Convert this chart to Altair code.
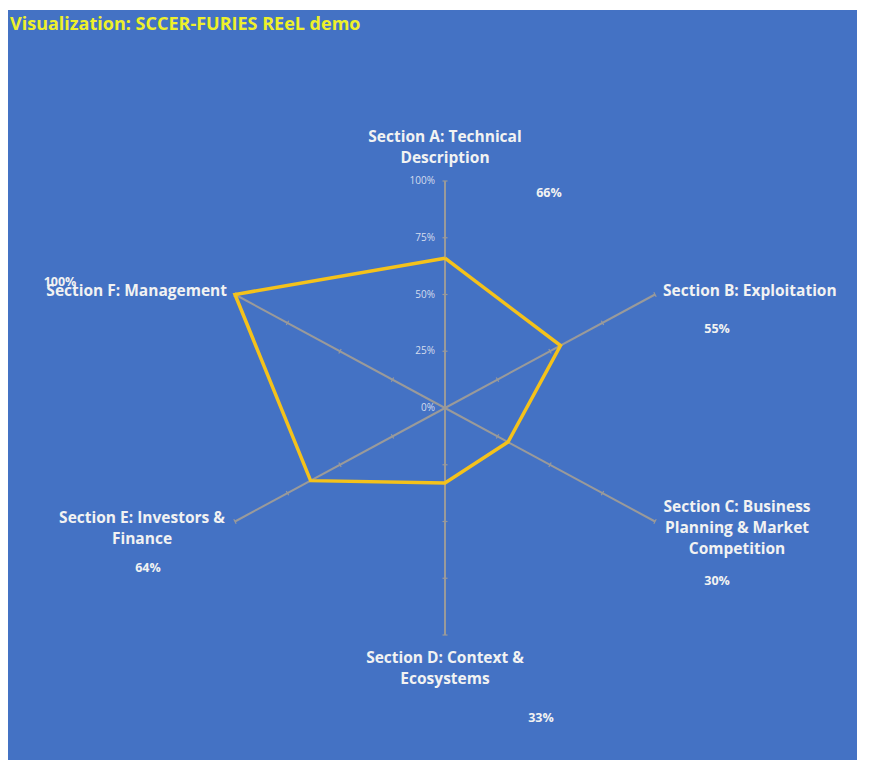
import math
import altair as alt
import pandas as pd

# ---------------- data ----------------
title_text = "Visualization: SCCER-FURIES REeL demo"
categories = ["A", "B", "C", "D", "E", "F"]
label_lines = [
    ["Section A: Technical", "Description"],
    ["Section B: Exploitation"],
    ["Section C: Business", "Planning & Market", "Competition"],
    ["Section D: Context &", "Ecosystems"],
    ["Section E: Investors &", "Finance"],
    ["Section F: Management"],
]
values = [0.66, 0.55, 0.30, 0.33, 0.64, 1.00]
value_labels = ["66%", "55%", "30%", "33%", "64%", "100%"]
tick_values = [0.0, 0.25, 0.50, 0.75, 1.00]
tick_labels = ["0%", "25%", "50%", "75%", "100%"]

# ---------------- layout / style ----------------
W, H = 849, 750
CX, CY = 437, 398          # centre of radar in view pixels
RX, RY = 242.5, 227        # pixels per unit radius (x / y)
BG = "#4472C4"
SPOKE = "#9A9A9A"
GOLD = "#F4C21B"
WHITE = "#F2F2F2"
FONT = "Open Sans"

# label placement: (dx, dy of first line, align) relative to spoke end, pixels
cat_layout = [(0, -44, "center"), (8, -4, "left"), (82, -15, "center"),
              (0, 23, "center"), (-93, -4, "center"), (-8, -4, "right")]
val_layout = [(104, 12), (62, 34), (62, 59), (96, 83), (-87, 46), (-175, -13)]

xdom = [-CX / RX, (W - CX) / RX]
ydom = [-(H - CY) / RY, CY / RY]
xs = alt.Scale(domain=xdom, nice=False, zero=False)
ys = alt.Scale(domain=ydom, nice=False, zero=False)

angles = [math.radians(90 - 60 * i) for i in range(len(categories))]

# polygon
poly = pd.DataFrame({
    "idx": list(range(len(values) + 1)),
    "x": [values[i % 6] * math.cos(angles[i % 6]) for i in range(7)],
    "y": [values[i % 6] * math.sin(angles[i % 6]) for i in range(7)],
})

# spokes
spokes = pd.DataFrame({
    "cat": categories,
    "x0": [0.0] * 6, "y0": [0.0] * 6,
    "x1": [math.cos(a) for a in angles],
    "y1": [math.sin(a) for a in angles],
})

# small tick marks on spokes
trows = []
for a in angles:
    px, py = math.cos(a) * RX, -math.sin(a) * RY
    n = math.hypot(px, py)
    qx, qy = -py / n, px / n  # perpendicular in pixel space
    for t in tick_values[1:]:
        bx, by = t * math.cos(a), t * math.sin(a)
        trows.append({"x0": bx - 2.5 * qx / RX, "y0": by + 2.5 * qy / RY,
                      "x1": bx + 2.5 * qx / RX, "y1": by - 2.5 * qy / RY})
ticks = pd.DataFrame(trows)

# axis labels on spoke A
axis_df = pd.DataFrame({"x": [0.0] * 5, "y": tick_values, "lab": tick_labels})

layers = []
layers.append(alt.Chart(spokes).mark_rule(color=SPOKE, strokeWidth=2).encode(
    x=alt.X("x0:Q", scale=xs, axis=None), y=alt.Y("y0:Q", scale=ys, axis=None),
    x2="x1:Q", y2="y1:Q"))
layers.append(alt.Chart(ticks).mark_rule(color=SPOKE, strokeWidth=1.2).encode(
    x=alt.X("x0:Q", scale=xs, axis=None), y=alt.Y("y0:Q", scale=ys, axis=None),
    x2="x1:Q", y2="y1:Q"))
layers.append(alt.Chart(axis_df).mark_text(
    align="right", baseline="middle", dx=-10, fontSize=10, font=FONT,
    color="#D5DDEE").encode(
    x=alt.X("x:Q", scale=xs, axis=None), y=alt.Y("y:Q", scale=ys, axis=None),
    text="lab:N"))
layers.append(alt.Chart(poly).mark_line(
    color=GOLD, strokeWidth=3.5, strokeJoin="miter").encode(
    x=alt.X("x:Q", scale=xs, axis=None), y=alt.Y("y:Q", scale=ys, axis=None),
    order="idx:Q"))

for i, cat in enumerate(categories):
    a = angles[i]
    dx, dy, al = cat_layout[i]
    d = pd.DataFrame({"x": [math.cos(a)], "y": [math.sin(a)],
                      "lab": [label_lines[i]], "v": [value_labels[i]]})
    layers.append(alt.Chart(d).mark_text(
        align=al, baseline="middle", dx=dx, dy=dy, fontSize=15.5,
        fontWeight="bold", font=FONT, color=WHITE, lineHeight=21).encode(
        x=alt.X("x:Q", scale=xs, axis=None), y=alt.Y("y:Q", scale=ys, axis=None),
        text="lab"))
    vdx, vdy = val_layout[i]
    layers.append(alt.Chart(d).mark_text(
        align="center", baseline="middle", dx=vdx, dy=vdy, fontSize=12.5,
        fontWeight="bold", font=FONT, color=WHITE).encode(
        x=alt.X("x:Q", scale=xs, axis=None), y=alt.Y("y:Q", scale=ys, axis=None),
        text="v:N"))

layers.append(alt.Chart(pd.DataFrame({"t": [title_text]})).mark_text(
    align="left", baseline="alphabetic", fontSize=18, fontWeight="bold",
    font=FONT, color="#EEF02A").encode(
    x=alt.value(2), y=alt.value(20), text="t:N"))

chart = alt.layer(*layers).properties(
    width=W, height=H, background="white",
    padding={"left": 0, "top": 2, "right": 0, "bottom": 0},
    autosize=alt.AutoSizeParams(type="none"),
).configure_view(fill=BG, strokeWidth=0)

chart.save("out.html", embed_options={"renderer": "svg", "actions": False})
